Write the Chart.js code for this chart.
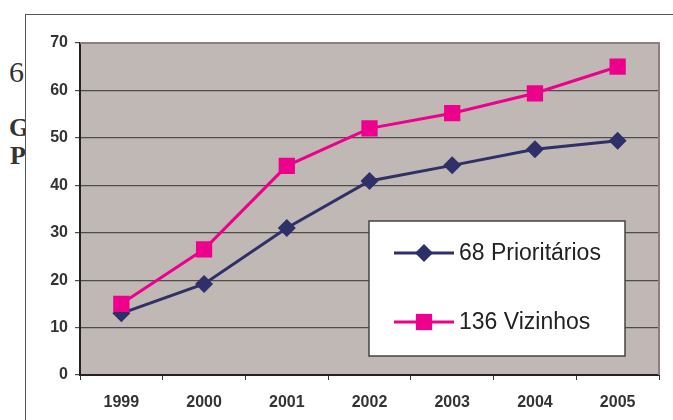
<!DOCTYPE html>
<html>
<head>
<meta charset="utf-8">
<script src="https://cdn.jsdelivr.net/npm/chart.js@4/dist/chart.umd.min.js"></script>
<style>
  html, body { margin: 0; padding: 0; background: #fff; }
  #wrap { position: relative; width: 673px; height: 420px; overflow: hidden; }
  .doc { position: absolute; font-family: "Liberation Serif", "DejaVu Serif", serif; color: #333; }
  #frame { position: absolute; left: 25px; top: 14px; width: 700px; height: 450px;
           border-left: 1.5px solid #555; border-top: 1.5px solid #555; background: #fff; }
  #chart { position: absolute; left: 0; top: 0; }
</style>
</head>
<body>
<div id="wrap">
  <!-- texto do documento por trás do gráfico -->
  <div class="doc" style="left:9px; top:55px; font-size:30px;">6</div>
  <div class="doc" style="left:9px; top:113px; font-size:26px; font-weight:bold;">G</div>
  <div class="doc" style="left:10px; top:141px; font-size:26px; font-weight:bold;">P</div>
  <div id="frame"></div>
  <canvas id="chart" width="673" height="420"></canvas>
</div>
<script>
// Dados
const anos = ['1999', '2000', '2001', '2002', '2003', '2004', '2005'];
const prioritarios = [13, 19.2, 31, 40.9, 44.2, 47.6, 49.4];
const vizinhos = [15, 26.5, 44.1, 52, 55.2, 59.4, 65];
const legendaTextos = ['68 Prioritários', '136 Vizinhos'];

const corAzul = '#2f3068';
const corRosa = '#ec008c';

// Fundo cinza da área do gráfico e bordas superior/direita
const plotBgPlugin = {
  id: 'plotBg',
  beforeDraw: (chart) => {
    const { ctx, chartArea: a } = chart;
    ctx.save();
    ctx.fillStyle = '#c0b8b5';
    ctx.fillRect(a.left, a.top, a.right - a.left, a.bottom - a.top);
    ctx.restore();
  },
  beforeDatasetsDraw: (chart) => {
    const { ctx, chartArea: a } = chart;
    ctx.save();
    ctx.strokeStyle = '#8b807b';
    ctx.lineWidth = 2;
    ctx.beginPath();
    ctx.moveTo(a.left, a.top);
    ctx.lineTo(a.right, a.top);
    ctx.lineTo(a.right, a.bottom);
    ctx.stroke();
    ctx.restore();
  }
};

// Legenda em caixa branca dentro da área do gráfico
const boxLegendPlugin = {
  id: 'boxLegend',
  afterDatasetsDraw: (chart) => {
    const { ctx, chartArea: a } = chart;
    const bx = a.left + 289, by = a.top + 178, bw = 256, bh = 135;
    ctx.save();
    ctx.fillStyle = '#fff';
    ctx.fillRect(bx, by, bw, bh);
    ctx.strokeStyle = '#444';
    ctx.lineWidth = 1.5;
    ctx.strokeRect(bx, by, bw, bh);

    const items = [
      { text: legendaTextos[0], color: corAzul, style: 'rectRot', r: 9 },
      { text: legendaTextos[1], color: corRosa, style: 'rect', r: 11.5 }
    ];
    items.forEach((it, i) => {
      const y = by + 32 + i * 69;
      const x0 = bx + 25, x1 = bx + 85, xm = (x0 + x1) / 2;
      ctx.strokeStyle = it.color;
      ctx.lineWidth = 3;
      ctx.beginPath();
      ctx.moveTo(x0, y);
      ctx.lineTo(x1, y);
      ctx.stroke();
      ctx.fillStyle = it.color;
      ctx.beginPath();
      if (it.style === 'rect') {
        const s = it.r * Math.SQRT1_2;
        ctx.rect(xm - s, y - s, 2 * s, 2 * s);
      } else {
        ctx.moveTo(xm - it.r, y);
        ctx.lineTo(xm, y - it.r);
        ctx.lineTo(xm + it.r, y);
        ctx.lineTo(xm, y + it.r);
        ctx.closePath();
      }
      ctx.fill();
      ctx.fillStyle = '#222';
      ctx.font = '23px "Liberation Sans", Arial, sans-serif';
      ctx.textAlign = 'left';
      ctx.textBaseline = 'middle';
      ctx.fillText(it.text, bx + 90, y + 1);
    });
    ctx.restore();
  }
};

const fonteEixo = { family: '"Liberation Sans", Arial, sans-serif', size: 16, weight: 'bold' };

new Chart(document.getElementById('chart'), {
  type: 'line',
  data: {
    labels: anos,
    datasets: [
      {
        label: legendaTextos[0],
        data: prioritarios,
        borderColor: corAzul,
        backgroundColor: corAzul,
        borderWidth: 3,
        pointStyle: 'rectRot',
        pointRadius: 9,
        pointBorderWidth: 0,
        tension: 0,
        order: 1
      },
      {
        label: legendaTextos[1],
        data: vizinhos,
        borderColor: corRosa,
        backgroundColor: corRosa,
        borderWidth: 3,
        pointStyle: 'rect',
        pointRadius: 11.5,
        pointBorderWidth: 0,
        tension: 0,
        order: 0
      }
    ]
  },
  options: {
    responsive: false,
    animation: false,
    layout: { padding: { left: 0, top: 43, right: 14, bottom: 0 } },
    plugins: {
      legend: { display: false },
      tooltip: { enabled: false }
    },
    scales: {
      x: {
        offset: true,
        afterFit: (scale) => { scale.height = 45; },
        grid: { offset: true, drawOnChartArea: false, drawTicks: true, tickLength: 5, color: '#333', lineWidth: 1 },
        border: { color: '#222', width: 2 },
        ticks: { font: fonteEixo, color: '#333', padding: 13, maxRotation: 0 }
      },
      y: {
        min: 0,
        max: 70,
        afterFit: (scale) => { scale.width = 80; },
        grid: { color: '#4d4d4d', lineWidth: 1.2, drawTicks: true, tickLength: 5 },
        border: { color: '#222', width: 2 },
        ticks: { stepSize: 10, font: fonteEixo, color: '#333', padding: 7 }
      }
    }
  },
  plugins: [plotBgPlugin, boxLegendPlugin]
});
</script>
</body>
</html>
